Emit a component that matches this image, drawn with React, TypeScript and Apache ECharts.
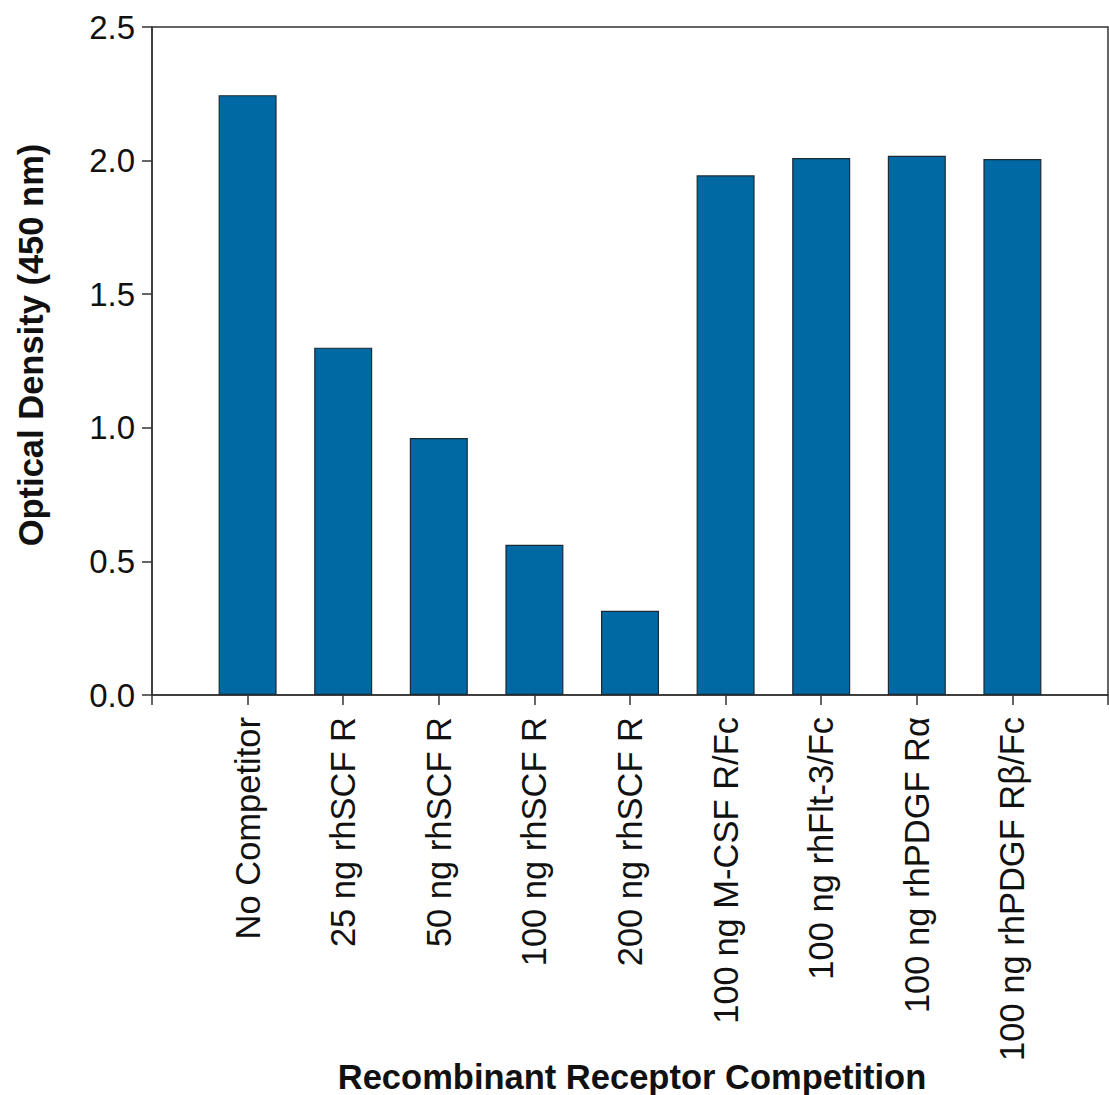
import React, { useEffect, useRef } from "react";
import * as echarts from "echarts";

const categories = [
  "No Competitor",
  "25 ng rhSCF R",
  "50 ng rhSCF R",
  "100 ng rhSCF R",
  "200 ng rhSCF R",
  "100 ng M-CSF R/Fc",
  "100 ng rhFlt-3/Fc",
  "100 ng rhPDGF Rα",
  "100 ng rhPDGF Rβ/Fc",
];
const opticalDensity = [2.245, 1.3, 0.962, 0.562, 0.315, 1.945, 2.01, 2.018, 2.006];
const yTicks = [0, 0.5, 1.0, 1.5, 2.0, 2.5];

const FONT = "'Liberation Sans', Arial, Helvetica, sans-serif";
const LINE = "#333333";

export default function App() {
  const ref = useRef<HTMLDivElement>(null);
  useEffect(() => {
    if (!ref.current) return;
    const chart = echarts.init(ref.current, null, { renderer: "svg" });
    const data = categories.map((c, i) => [i + 1, opticalDensity[i]]);
    chart.setOption({
      animation: false,
      backgroundColor: "#ffffff",
      grid: {
        left: 152,
        top: 27,
        right: 1,
        bottom: 400,
        show: true,
        borderColor: LINE,
        borderWidth: 1.5,
        backgroundColor: "transparent",
      },
      xAxis: {
        type: "value",
        min: 0,
        max: categories.length + 1,
        interval: 1,
        splitLine: { show: false },
        axisLine: { show: true, lineStyle: { color: LINE, width: 1.5 } },
        axisTick: { show: true, length: 10, lineStyle: { color: LINE, width: 1.5 } },
        axisLabel: {
          rotate: 90,
          margin: 22,
          fontSize: 34.5,
          fontFamily: FONT,
          color: "#111",
          showMinLabel: true,
          showMaxLabel: true,
          formatter: (v: number) => {
            const idx = Math.round(v) - 1;
            return idx >= 0 && idx < categories.length ? categories[idx] : "";
          },
        },
      },
      yAxis: {
        type: "value",
        min: 0,
        max: 2.5,
        interval: 0.5,
        splitLine: { show: false },
        axisLine: { show: true, lineStyle: { color: LINE, width: 1.5 } },
        axisTick: { show: true, length: 10, lineStyle: { color: LINE, width: 1.5 } },
        axisLabel: {
          margin: 17,
          fontSize: 33,
          fontFamily: FONT,
          color: "#111",
          formatter: (v: number) => {
            const t = yTicks.find((x) => Math.abs(x - v) < 1e-9);
            return (t !== undefined ? t : v).toFixed(1);
          },
        },
      },
      graphic: [
        {
          type: "text",
          x: 31,
          y: 345,
          rotation: Math.PI / 2,
          style: {
            text: "Optical Density (450 nm)",
            fontSize: 34.5,
            fontWeight: "bold",
            fontFamily: FONT,
            fill: "#111",
            align: "center",
            verticalAlign: "middle",
          },
        },
        {
          type: "text",
          x: 632,
          y: 1077,
          style: {
            text: "Recombinant Receptor Competition",
            fontSize: 34.5,
            fontWeight: "bold",
            fontFamily: FONT,
            fill: "#111",
            align: "center",
            verticalAlign: "middle",
          },
        },
      ],
      series: [
        {
          type: "bar",
          data,
          barWidth: 58,
          itemStyle: { color: "#0068A2", borderColor: "#1e2a33", borderWidth: 1.2 },
        },
      ],
    });
    return () => chart.dispose();
  }, []);
  return (
    <div
      ref={ref}
      style={{ position: "fixed", left: 0, top: 0, width: 1109, height: 1095, background: "#fff" }}
    />
  );
}
